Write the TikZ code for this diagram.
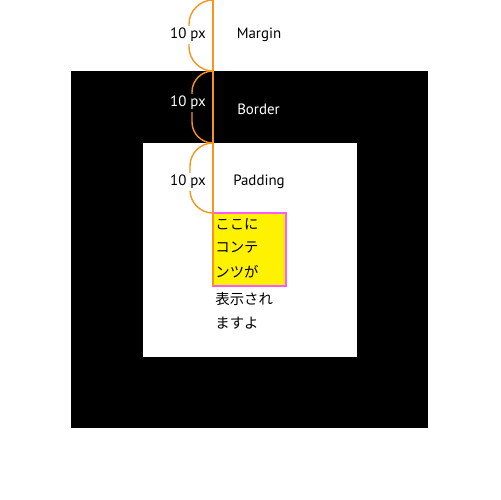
\documentclass[tikz,border=0pt]{standalone}
\usepackage{fontspec}
\setmainfont{PT Sans}
\newfontfamily\jpfont{Noto Sans CJK JP}
\usetikzlibrary{positioning}
\definecolor{guide}{RGB}{247,148,30}
\definecolor{pinkline}{RGB}{255,90,255}

\begin{document}
\begin{tikzpicture}[
    x=0.02cm, y=-0.02cm,
    lbl/.style={font=\fontsize{8.5}{10}\selectfont,inner xsep=1pt,inner ysep=1.5pt},
    brace/.style={draw=guide,line width=0.8pt},
    contentbox/.style={draw=pinkline,fill=yellow,line width=0.8pt},
    jp/.style={font=\jpfont\fontsize{8.2}{10}\selectfont,inner sep=0pt,anchor=west}
]
\useasboundingbox (0,0) rectangle (500,500);

% Boxes
\fill[black] (71,71) rectangle (428,428);
\fill[white] (143,143) rectangle (357,357);
\draw[contentbox] (213,213) rectangle (286,286);

% Guide points
\coordinate (m0) at (213,0);
\coordinate (m1) at (213,71);
\coordinate (m2) at (213,143);
\coordinate (m3) at (213,213);
\coordinate (c0) at (213,286);

% Guide line and braces
\draw[brace] (m0) -- (c0);
\draw[brace] (m0) .. controls +(-13,0) and +(0,-13) .. ++(-24,24) -- ++(0,23)
    .. controls +(0,13) and +(-13,0) .. (m1);
\draw[brace] (m1) .. controls +(-11.6,0) and +(0,-11.6) .. ++(-21,21) -- ++(0,30)
    .. controls +(0,11.6) and +(-11.6,0) .. (m2);
\draw[brace] (m2) .. controls +(-12.7,0) and +(0,-12.7) .. ++(-23,23) -- ++(0,24)
    .. controls +(0,12.7) and +(-12.7,0) .. (m3);

% Labels
\node[lbl,fill=white] (px1) at (188,35) {10 px};
\node[lbl] (margin) at (259,35) {Margin};
\node[lbl,fill=black,text=white] (px2) at (188,103) {10 px};
\node[lbl,text=white] (border) at (258.5,109) {Border};
\node[lbl,fill=white] (px3) at (188,182) {10 px};
\node[lbl] (padding) at (259,182) {Padding};

% Content text
\node[jp] (t1) at (215,224) {ここに};
\node[jp] (t2) at (215,248) {コンテ};
\node[jp] (t3) at (215,272) {ンツが};
\node[jp] (t4) at (215,299) {表示され};
\node[jp] (t5) at (215,323) {ますよ};

\end{tikzpicture}
\end{document}
